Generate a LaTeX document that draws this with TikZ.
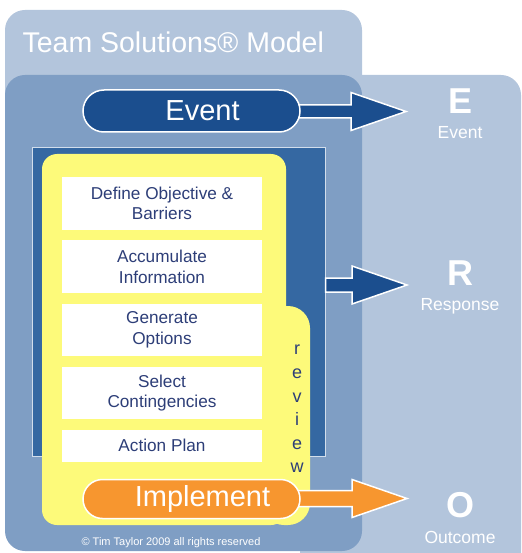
\documentclass[tikz,border=0pt]{standalone}
\usepackage{fontspec}
\setmainfont{Liberation Sans}
\usepackage{tikz}
\usetikzlibrary{calc}
\usetikzlibrary{positioning}
\usetikzlibrary{shapes.misc}
\definecolor{lightbg}{RGB}{179,197,220}
\definecolor{midbg}{RGB}{127,158,196}
\definecolor{framebg}{RGB}{53,104,162}
\definecolor{frameline}{RGB}{210,222,236}
\definecolor{pillblue}{RGB}{27,78,142}
\definecolor{yellowbg}{RGB}{253,250,122}
\definecolor{pillorange}{RGB}{247,150,47}
\definecolor{steptext}{RGB}{45,62,120}
\tikzstyle{stepbox}=[rectangle,fill=white,minimum width=200pt,inner sep=0pt,
  text=steptext,align=center,font=\fontsize{17.2}{20.5}\selectfont]
\tikzset{
  blockarrow/.style={
    to path={
      let \p1=(\tikztostart), \p2=(\tikztotarget) in
      (\x1,{\y2+#1}) -- ({\x2-55pt},{\y2+#1}) -- ({\x2-55pt},{\y2+19pt})
      -- (\x2,\y2) -- ({\x2-55pt},{\y2-19pt}) -- ({\x2-55pt},{\y2-#1})
      -- (\x1,{\y2-#1}) -- cycle
    }
  },
  blockarrow/.default=7pt,
}

\begin{document}
\begin{tikzpicture}[x=1pt,y=-1pt,
pill/.style={rounded rectangle,draw=white,line width=1.5pt,
minimum width=217pt,inner sep=0pt},
pilltext/.style={text=white,font=\fontsize{29}{34}\selectfont},
bigletter/.style={text=white,inner sep=0pt,font=\fontsize{36}{40}\selectfont\bfseries},
smalllbl/.style={text=white,inner sep=0pt,font=\fontsize{17.5}{20}\selectfont},
]
\useasboundingbox (0,0) rectangle (521,553);
\clip (0,0) rectangle (521,553);
% background panels
\fill[lightbg, rounded corners=20] (5,10) rectangle (362,200);
\fill[lightbg, rounded corners=20] (300,75) rectangle (521,600);
\fill[midbg, rounded corners=20] (5,75) rectangle (362,551);
\node[rectangle,fill=framebg,draw=frameline,line width=1pt,
minimum width=293pt,minimum height=308pt] (frame) at (178.5,302) {};
\fill[yellowbg, rounded corners=15] (42,154) rectangle (286,525);
\fill[yellowbg, rounded corners=22] (262,306) rectangle (310,525);
\node[anchor=base west,text=white,font=\fontsize{28.5}{32}\selectfont] (title) at (19,53) {Team Solutions® Model};
% steps
\node[stepbox,minimum height=53pt] (s1) at (162,203.5) {Define Objective \&\\Barriers};
\node[stepbox,minimum height=53pt,below=10pt of s1] (s2) {Accumulate\\Information};
\node[stepbox,minimum height=52pt,below=10pt of s2] (s3) {Generate\\Options};
\node[stepbox,minimum height=52pt,below=11pt of s3] (s4) {Select\\Contingencies};
\node[stepbox,minimum height=32pt,below=10pt of s4] (s5) {Action Plan};
\node[text=steptext,align=center,inner sep=0pt,
font=\fontsize{18}{23.6}\selectfont] (review) at (297,409) {r\\e\\v\\i\\e\\w};
% E R O
\node[bigletter] (E) at (460,101) {E};
\node[smalllbl,below=12.5pt of E] (Elbl) {Event};
\node[bigletter] (R) at (460,273.5) {R};
\node[smalllbl,below=12.5pt of R] (Rlbl) {Response};
\node[bigletter] (O) at (460,505.5) {O};
\node[smalllbl,below=12.5pt of O] (Olbl) {Outcome};
\coordinate (tipE) at (406,111.5);
\coordinate (tipR) at (407,285);
\coordinate (tipO) at (407,498.5);
% arrows
\draw[fill=pillblue,draw=white,line width=1.5pt] (frame.east |- tipR) to[blockarrow] (tipR);
\draw[fill=pillblue,draw=white,line width=1.5pt] (290,111.5) to[blockarrow=6.5pt] (tipE);
\draw[fill=pillorange,draw=white,line width=1.5pt] (290,498.5) to[blockarrow=8pt] (tipO);
% pills
\node[pill,fill=pillblue,minimum height=42pt,
label={[pilltext,xshift=11pt]center:Event}] (event) at (191.5,111) {};
\node[pill,fill=pillorange,minimum height=39pt,
label={[pilltext,xshift=11pt]center:Implement}] (implement) at (191.5,499) {};
\node[text=white,font=\fontsize{11}{13}\selectfont] (copy) at (171,543) {© Tim Taylor 2009 all rights reserved};
\end{tikzpicture}
\end{document}
